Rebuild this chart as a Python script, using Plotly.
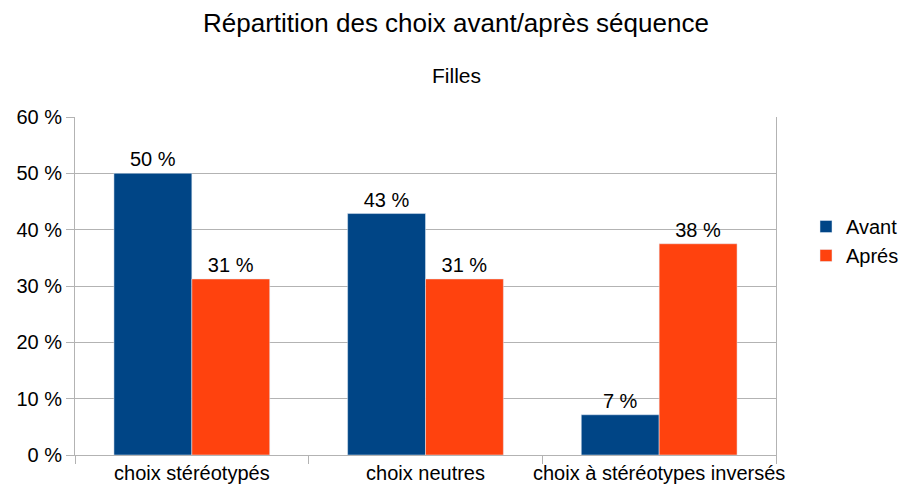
import plotly.graph_objects as go

categories = ["choix stéréotypés", "choix neutres", "choix à stéréotypes inversés"]
avant = [50.0, 42.86, 7.14]
apres = [31.25, 31.25, 37.5]
avant_labels = ["50 %", "43 %", "7 %"]
apres_labels = ["31 %", "31 %", "38 %"]
y_ticks = [0, 10, 20, 30, 40, 50, 60]
y_tick_labels = ["0 %", "10 %", "20 %", "30 %", "40 %", "50 %", "60 %"]

FONT = "Liberation Sans, Arial, sans-serif"

W, H = 899, 490
ml, mr, mt, mb = 75, W - 776, 117, H - 455
pw = W - ml - mr
ph = H - mt - mb

fig = go.Figure()
fig.add_trace(go.Bar(name="Avant", x=categories, y=avant, text=avant_labels,
                     textposition="outside", marker_color="#004586", constraintext="none",
                     textfont=dict(size=20, color="#000000"), cliponaxis=False))
fig.add_trace(go.Bar(name="Aprés", x=categories, y=apres, text=apres_labels,
                     textposition="outside", marker_color="#ff420e", constraintext="none",
                     textfont=dict(size=20, color="#000000"), cliponaxis=False))

fig.update_layout(
    width=W, height=H,
    margin=dict(l=ml, r=mr, t=mt, b=mb, autoexpand=False),
    paper_bgcolor="white", plot_bgcolor="white",
    font=dict(family=FONT, size=20, color="#000000"),
    barmode="group", bargap=1/3, bargroupgap=0,
    showlegend=True,
    legend=dict(x=(806 - ml) / pw, y=(455 - 241) / ph, xanchor="left", yanchor="middle",
                font=dict(size=20), itemwidth=30, tracegroupgap=0, borderwidth=0),
    annotations=[
        dict(text="Répartition des choix avant/après séquence", x=(456 - ml) / pw,
             y=1 + (117 - 23) / ph, xref="paper", yref="paper", showarrow=False,
             font=dict(size=26), yanchor="middle"),
        dict(text="Filles", xref="paper", yref="paper", x=(456 - ml) / pw,
             y=1 + (117 - 76) / ph, showarrow=False, font=dict(size=21), yanchor="middle"),
    ],
)

fig.update_xaxes(tickson="boundaries", ticks="outside", ticklen=8, tickcolor="#b3b3b3",
                 showline=True, linecolor="#b3b3b3", linewidth=1, showgrid=False,
                 tickfont=dict(size=20), tickangle=0, automargin=False)
fig.update_yaxes(range=[0, 60], tickvals=y_ticks, ticktext=y_tick_labels,
                 ticks="outside", ticklen=8, tickcolor="#b3b3b3",
                 showline=True, mirror=True, linecolor="#b3b3b3", linewidth=1,
                 showgrid=True, gridcolor="#b3b3b3", gridwidth=1, zeroline=False,
                 tickfont=dict(size=20), automargin=False)

fig.write_html("out.html", config={"displayModeBar": False})

# remove the default page margin so the figure fills the window exactly
with open("out.html", "r", encoding="utf-8") as f:
    html = f.read()
html = html.replace("<body>", "<body style=\"margin:0;overflow:hidden\">", 1)
with open("out.html", "w", encoding="utf-8") as f:
    f.write(html)
